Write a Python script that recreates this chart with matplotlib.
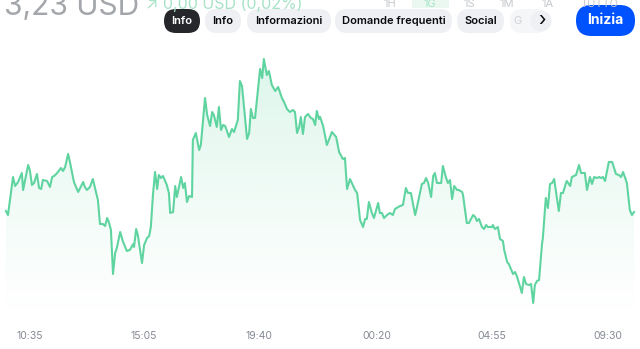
import numpy as np
import matplotlib
matplotlib.use("Agg")
import matplotlib.pyplot as plt
from matplotlib.colors import to_rgb
from matplotlib.patches import FancyBboxPatch, Circle

plt.rcParams['font.family'] = ['Inter', 'DejaVu Sans']

# one day of prices, minutes counted from start_time
start_time = "09:24"
tick_labels = ["10:35", "15:05", "19:40", "00:20", "04:55", "09:30"]

minutes = [
    14, 19, 31, 36, 43, 52, 55, 67, 71, 76, 81, 88,
    93, 98, 102, 112, 119, 124, 129, 136, 145, 150, 155, 162,
    164, 176, 186, 198, 202, 207, 214, 221, 233, 238, 245, 250,
    255, 259, 264, 269, 274, 278, 286, 293, 302, 309, 317, 319,
    324, 328, 338, 343, 350, 355, 359, 364, 369, 374, 378, 383,
    388, 397, 402, 405, 412, 417, 421, 431, 436, 440, 445, 450,
    457, 459, 466, 474, 478, 488, 493, 500, 505, 509, 516, 521,
    526, 531, 536, 545, 552, 557, 566, 571, 576, 588, 593, 597,
    602, 607, 619, 624, 628, 635, 640, 647, 655, 662, 671, 676,
    683, 690, 697, 702, 707, 712, 716, 721, 726, 733, 740, 745,
    750, 754, 759, 762, 769, 778, 790, 800, 807, 816, 821, 826,
    833, 845, 850, 857, 864, 869, 873, 878, 885, 890, 900, 904,
    909, 914, 921, 928, 935, 940, 952, 959, 966, 971, 978, 988,
    992, 1004, 1009, 1014, 1019, 1026, 1031, 1035, 1040, 1050, 1054, 1061,
    1066, 1071, 1076, 1081, 1088, 1092, 1100, 1102, 1111, 1116, 1126, 1131,
    1135, 1140, 1147, 1152, 1157, 1161, 1171, 1173, 1178, 1185, 1190, 1197,
    1200, 1207, 1211, 1221, 1226, 1230, 1238, 1242, 1247, 1252, 1259, 1264,
    1269, 1273, 1278, 1283, 1290, 1292, 1299, 1304, 1309, 1314, 1319, 1323,
    1330, 1335, 1340, 1347, 1349, 1357, 1361, 1371, 1378, 1383, 1392, 1397,
    1404, 1409, 1414, 1421, 1426, 1430, 1435, 1440, 1449, 1457, 1466, 1473,
    1478, 1483, 1492, 1499, 1504, 1509,
]

prices = [
    3.2245, 3.2225, 3.2415, 3.2370, 3.2390, 3.2435, 3.2350, 3.2475, 3.2450, 3.2375, 3.2385, 3.2430,
    3.2360, 3.2355, 3.2400, 3.2395, 3.2365, 3.2415, 3.2420, 3.2435, 3.2460, 3.2445, 3.2465, 3.2530,
    3.2515, 3.2390, 3.2340, 3.2390, 3.2365, 3.2350, 3.2365, 3.2405, 3.2300, 3.2180, 3.2180, 3.2170,
    3.2210, 3.2190, 3.2150, 3.1930, 3.2035, 3.2060, 3.2140, 3.2090, 3.2045, 3.2050, 3.2080, 3.2065,
    3.2155, 3.2125, 3.1985, 3.2075, 3.2110, 3.2120, 3.2165, 3.2325, 3.2440, 3.2355, 3.2425, 3.2410,
    3.2420, 3.2375, 3.2335, 3.2235, 3.2240, 3.2370, 3.2315, 3.2415, 3.2360, 3.2385, 3.2290, 3.2320,
    3.2315, 3.2600, 3.2635, 3.2550, 3.2575, 3.2810, 3.2725, 3.2670, 3.2740, 3.2725, 3.2665, 3.2765,
    3.2650, 3.2675, 3.2670, 3.2615, 3.2655, 3.2640, 3.2700, 3.2895, 3.2870, 3.2605, 3.2635, 3.2755,
    3.2710, 3.2710, 3.2955, 3.2910, 3.3005, 3.2925, 3.2945, 3.2875, 3.2845, 3.2865, 3.2810, 3.2790,
    3.2755, 3.2740, 3.2750, 3.2740, 3.2635, 3.2665, 3.2715, 3.2630, 3.2715, 3.2730, 3.2710, 3.2705,
    3.2675, 3.2745, 3.2705, 3.2715, 3.2670, 3.2575, 3.2640, 3.2615, 3.2540, 3.2505, 3.2510, 3.2355,
    3.2405, 3.2350, 3.2335, 3.2200, 3.2165, 3.2205, 3.2205, 3.2290, 3.2235, 3.2210, 3.2285, 3.2235,
    3.2235, 3.2210, 3.2225, 3.2235, 3.2225, 3.2255, 3.2270, 3.2275, 3.2360, 3.2335, 3.2335, 3.2225,
    3.2260, 3.2380, 3.2385, 3.2410, 3.2385, 3.2315, 3.2420, 3.2435, 3.2385, 3.2385, 3.2470, 3.2415,
    3.2385, 3.2400, 3.2305, 3.2370, 3.2350, 3.2350, 3.2340, 3.2325, 3.2185, 3.2185, 3.2225, 3.2215,
    3.2195, 3.2205, 3.2165, 3.2155, 3.2175, 3.2165, 3.2165, 3.2175, 3.2155, 3.2165, 3.2105, 3.2095,
    3.2050, 3.1990, 3.1980, 3.1930, 3.1940, 3.1920, 3.1865, 3.1835, 3.1915, 3.1880, 3.1875, 3.1880,
    3.1785, 3.1875, 3.1895, 3.1900, 3.2080, 3.2110, 3.2310, 3.2260, 3.2380, 3.2385, 3.2405, 3.2345,
    3.2245, 3.2335, 3.2335, 3.2385, 3.2395, 3.2370, 3.2415, 3.2425, 3.2475, 3.2435, 3.2435, 3.2350,
    3.2415, 3.2380, 3.2415, 3.2410, 3.2415, 3.2410, 3.2415, 3.2395, 3.2490, 3.2490, 3.2430, 3.2425,
    3.2415, 3.2440, 3.2385, 3.2250, 3.2225, 3.2240,
]

price_text = "3,23 USD"
change_text = "↗ 0,00 USD (0,02%)"
ranges = ["1H", "1G", "1S", "1M", "1A", "TUTTO"]
tabs = ["Info", "Info", "Informazioni", "Domande frequenti", "Social"]
button_text = "Inizia"

line_color = "#5fd4a0"


def to_min(s):
    h, m = s.split(":")
    return int(h) * 60 + int(m)


t0 = to_min(start_time)
tick_pos = []
prev = -1
for s in tick_labels:
    v = (to_min(s) - t0) % 1440
    while v < prev:
        v += 1440
    tick_pos.append(v)
    prev = v

W, H = 640, 349
fig = plt.figure(figsize=(W / 100, H / 100), dpi=100)
fig.patch.set_facecolor("white")

# chart area
ax = fig.add_axes([0, 29 / H, 1, 320 / H])
ax.set_facecolor("none")
x = np.array(minutes)
y = np.array(prices)
ybottom = 3.172
ax.plot(x, y, color=line_color, lw=1.5, zorder=3, solid_joinstyle="round")

poly = ax.fill_between(x, y, ybottom, color="none", lw=0)
grad = np.zeros((256, 1, 4))
grad[..., :3] = to_rgb(line_color)
grad[:, 0, 3] = np.linspace(0, 0.24, 256) ** 1.1
img = ax.imshow(grad, aspect="auto", origin="lower",
                extent=[x[0], x[-1], ybottom, y.max()], zorder=1)
img.set_clip_path(poly.get_paths()[0], transform=ax.transData)

ax.set_xlim(0, W * 2.38)
ax.set_ylim(3.17, 3.33)
ax.set_xticks(tick_pos)
ax.set_xticklabels(tick_labels)
ax.set_yticks([])
ax.tick_params(axis="x", length=0, pad=8, labelsize=7.5, labelcolor="#858a94")
for sp in ax.spines.values():
    sp.set_visible(False)

# header overlay in pixel units
ui = fig.add_axes([0, 0, 1, 1], zorder=5)
ui.set_xlim(0, W)
ui.set_ylim(H, 0)
ui.axis("off")
ui.patch.set_alpha(0)


def pill(x0, x1, y0, y1, fc):
    h = y1 - y0
    ui.add_patch(FancyBboxPatch((x0, y0), x1 - x0, h,
                                boxstyle=f"round,pad=0,rounding_size={h / 2}",
                                fc=fc, ec="none"))


ui.text(4, 15, price_text, fontsize=21.5, color="#a3a6ab", va="baseline", ha="left")
ui.text(146, 9, change_text, fontsize=11.5, color="#a6e3c6", va="baseline", ha="left")

# range selector row (mostly hidden)
ui.add_patch(plt.Rectangle((412, -2), 37, 10, fc="#eaf8f1", ec="none"))
for lab, cx in zip(ranges, [390, 430, 469, 507, 548, 599]):
    col = "#a6e3c6" if lab == "1G" else "#c5c8cd"
    ui.text(cx, 7, lab, fontsize=8, color=col, ha="center", va="baseline")

# tabs
spans = [(164, 200), (205, 241), (247, 331), (335, 452), (457, 504)]
for i, (lab, (a, b)) in enumerate(zip(tabs, spans)):
    dark = i == 0
    pill(a, b, 9, 33, "#26272b" if dark else "#eef0f3")
    ui.text((a + b) / 2, 21.5, lab, fontsize=8.0, fontweight="semibold",
            color="white" if dark else "#0a0b0d", ha="center", va="center")

pill(510, 548, 9, 33, "#f5f6f8")
ui.text(517, 21.5, "G", fontsize=8.0, color="#cfd2d6", ha="center", va="center")
ui.add_patch(Circle((541, 21), 10.5, fc="#eef0f3", ec="none"))
ui.text(541.5, 20.5, "›", fontsize=14, color="#0a0b0d", ha="center", va="center")

pill(576, 635, 5, 36, "#0052ff")
ui.text(605.5, 20.5, button_text, fontsize=10, fontweight="bold", color="white",
        ha="center", va="center")

fig.savefig("out.png", dpi=100, facecolor="white")
